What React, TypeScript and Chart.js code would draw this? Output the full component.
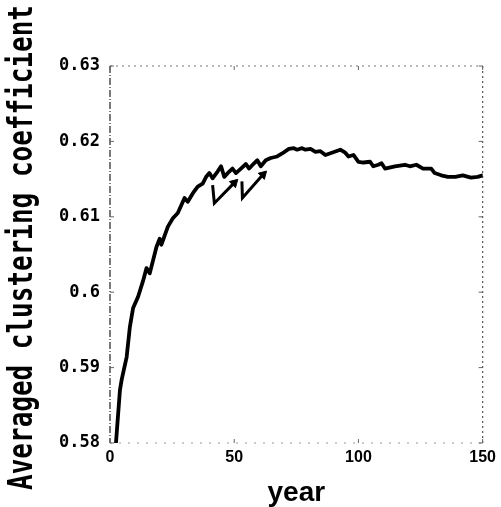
import React, { useEffect, useRef } from "react";
import { Chart, registerables } from "chart.js";

Chart.register(...registerables);

const years = [
  2.4, 4, 4.7, 6.7, 8, 9.3, 11.3, 13.3, 14.7, 16, 18.7, 20, 20.7, 23.3, 25.3,
  27.3, 30, 31.3, 33.3, 35.3, 37.3, 38.7, 40, 41.3, 43.3, 44.7, 46, 48, 49.3,
  50.7, 52.7, 54.7, 56, 58, 59.3, 60.7, 62.7, 64.7, 67.3, 69.3, 72, 74, 75.3,
  77.3, 78.7, 80.7, 82.7, 84.7, 86.7, 89.3, 92.7, 94.7, 96, 98, 100, 102,
  104.7, 106, 108, 109.3, 110.7, 114.7, 118.7, 120.7, 123.3, 126, 129.3,
  130.7, 133.3, 136, 139, 142, 145.3, 148, 150,
];
const clustering = [
  0.58, 0.587, 0.5884, 0.5914, 0.5954, 0.5979, 0.5994, 0.6015, 0.6032,
  0.6025, 0.606, 0.6071, 0.6063, 0.6087, 0.6098, 0.6105, 0.6125, 0.612,
  0.6131, 0.614, 0.6144, 0.6153, 0.6158, 0.6151, 0.616, 0.6167, 0.6153,
  0.616, 0.6164, 0.6158, 0.6164, 0.617, 0.6164, 0.6171, 0.6175, 0.6167,
  0.6175, 0.6178, 0.618, 0.6184, 0.619, 0.6191, 0.6189, 0.6191, 0.6189,
  0.619, 0.6186, 0.6187, 0.6182, 0.6185, 0.6189, 0.6185, 0.618, 0.6182,
  0.6173, 0.6172, 0.6173, 0.6167, 0.6169, 0.6171, 0.6164, 0.6167, 0.6169,
  0.6167, 0.6169, 0.6164, 0.6164, 0.6158, 0.6155, 0.6153, 0.6153, 0.6155,
  0.6152, 0.6153, 0.6155,
];
const arrow1Years = [41.3, 42, 50.0];
const arrow1Values = [0.6142, 0.6118, 0.6145];
const arrow2Years = [53.1, 53.3, 61.6];
const arrow2Values = [0.6147, 0.6125, 0.6156];
const xTicks = [0, 50, 100, 150];
const yTicks = [0.58, 0.59, 0.6, 0.61, 0.62, 0.63];
const xTitle = "year";
const yTitle = "Averaged clustering coefficient";

const toPoints = (xs: number[], ys: number[]) =>
  xs.map((x, i) => ({ x, y: ys[i] }));

const framePlugin = {
  id: "frame",
  beforeDatasetsDraw(chart: any) {
    const { ctx, chartArea } = chart;
    const { left, right, top, bottom } = chartArea;
    const line = (
      x1: number,
      y1: number,
      x2: number,
      y2: number,
      dash: number[],
      color: string,
      w: number
    ) => {
      ctx.save();
      ctx.beginPath();
      ctx.setLineDash(dash);
      ctx.strokeStyle = color;
      ctx.lineWidth = w;
      ctx.moveTo(x1, y1);
      ctx.lineTo(x2, y2);
      ctx.stroke();
      ctx.restore();
    };
    line(left, top, left, bottom, [7, 2, 1, 2], "#333", 1.3);
    line(left, top, right, top, [2, 4], "#777", 1);
    line(right, top, right, bottom, [2, 3], "#555", 1.2);
    line(left, bottom, right, bottom, [2, 7], "#999", 1);
    const xs = chart.scales.x;
    const ys = chart.scales.y;
    xTicks.forEach((v) => {
      const px = xs.getPixelForValue(v);
      line(px, bottom, px, bottom - 4, [], "#666", 1);
      line(px, top, px, top + 4, [], "#666", 1);
    });
    yTicks.forEach((v) => {
      const py = ys.getPixelForValue(v);
      line(left, py, left + 4, py, [], "#666", 1);
      line(right, py, right - 4, py, [], "#666", 1);
    });
  },
};

// Draws the y-axis title in a tall, condensed monospace face like the original.
const yTitlePlugin = {
  id: "yTitleCondensed",
  afterDraw(chart: any) {
    const { ctx, chartArea } = chart;
    ctx.save();
    ctx.font = "bold 34px 'DejaVu Sans Mono', monospace";
    const w = ctx.measureText(yTitle).width;
    const targetLen = (chartArea.bottom - chartArea.top) * 1.286;
    const cy = (chartArea.top + chartArea.bottom) / 2 - 7;
    ctx.translate(32, cy);
    ctx.rotate(-Math.PI / 2);
    ctx.scale(targetLen / w, 1);
    ctx.fillStyle = "#000";
    ctx.textAlign = "center";
    ctx.textBaseline = "alphabetic";
    ctx.fillText(yTitle, 0, 0);
    ctx.restore();
  },
};

export default function App() {
  const canvasRef = useRef<HTMLCanvasElement | null>(null);

  useEffect(() => {
    const canvas = canvasRef.current;
    if (!canvas) return;
    const chart = new Chart(canvas, {
      type: "line",
      data: {
        datasets: [
          {
            data: toPoints(years, clustering),
            borderColor: "#000",
            borderWidth: 3.8,
            pointRadius: 0,
            tension: 0,
            borderJoinStyle: "round",
            borderCapStyle: "round",
          },
          {
            data: toPoints(arrow1Years, arrow1Values),
            borderColor: "#000",
            borderWidth: 3,
            pointRadius: [0, 0, 5],
            pointStyle: "triangle",
            pointRotation: 45,
            pointBackgroundColor: "#000",
            pointBorderColor: "#000",
            pointBorderWidth: 1,
            tension: 0,
          },
          {
            data: toPoints(arrow2Years, arrow2Values),
            borderColor: "#000",
            borderWidth: 3,
            pointRadius: [0, 0, 5],
            pointStyle: "triangle",
            pointRotation: 45,
            pointBackgroundColor: "#000",
            pointBorderColor: "#000",
            pointBorderWidth: 1,
            tension: 0,
          },
        ],
      },
      options: {
        responsive: false,
        animation: false,
        layout: { padding: { left: 0, top: 66, right: 16, bottom: 0 } },
        plugins: {
          legend: { display: false },
          tooltip: { enabled: false },
        },
        scales: {
          x: {
            type: "linear",
            min: 0,
            max: 150,
            afterBuildTicks: (scale: any) => {
              scale.ticks = xTicks.map((v) => ({ value: v }));
            },
            afterFit: (scale: any) => {
              scale.height = 64;
            },
            grid: { display: false, drawTicks: false },
            border: { display: false },
            ticks: {
              color: "#000",
              padding: 5,
              maxRotation: 0,
              font: { family: "'Liberation Sans', Arial, sans-serif", size: 16, weight: "bold" },
            },
            title: {
              display: true,
              text: xTitle,
              color: "#000",
              padding: { top: 0, bottom: 0 },
              font: { family: "'Liberation Sans', Arial, sans-serif", size: 28, weight: "bold", lineHeight: 1 },
            },
          },
          y: {
            type: "linear",
            min: 0.58,
            max: 0.63,
            afterBuildTicks: (scale: any) => {
              scale.ticks = yTicks.map((v) => ({ value: v }));
            },
            afterFit: (scale: any) => {
              scale.width = 110;
            },
            grid: { display: false, drawTicks: false },
            border: { display: false },
            ticks: {
              color: "#000",
              padding: 10,
              font: { family: "'DejaVu Sans Mono', monospace", size: 17, weight: "bold" },
              callback: (v: any) => String(Number(Number(v).toFixed(2))),
            },
            title: { display: false },
          },
        },
      },
      plugins: [framePlugin, yTitlePlugin],
    } as any);
    return () => chart.destroy();
  }, []);

  return (
    <div
      style={{
        position: "absolute",
        left: 0,
        top: 0,
        width: 501,
        height: 507,
        background: "#fff",
      }}
    >
      <canvas ref={canvasRef} width={501} height={507} style={{ display: "block" }} />
    </div>
  );
}
